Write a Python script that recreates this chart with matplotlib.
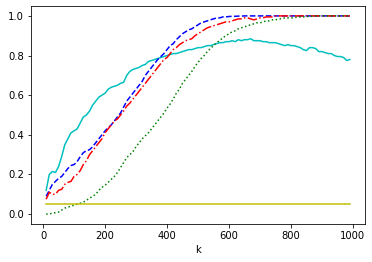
import numpy as np
import matplotlib
matplotlib.use("Agg")
import matplotlib.pyplot as plt

k = list(range(10, 1000, 10))

cyan = [0.12, 0.20, 0.215, 0.21, 0.24, 0.29, 0.35, 0.38, 0.41, 0.42,
        0.43, 0.46, 0.49, 0.50, 0.52, 0.55, 0.57, 0.59, 0.60, 0.61,
        0.63, 0.64, 0.645, 0.65, 0.66, 0.665, 0.70, 0.72, 0.73, 0.735,
        0.74, 0.75, 0.755, 0.77, 0.775, 0.78, 0.785, 0.79, 0.795, 0.80,
        0.805, 0.81, 0.81, 0.815, 0.82, 0.825, 0.83, 0.83, 0.835, 0.84,
        0.84, 0.845, 0.85, 0.85, 0.855, 0.86, 0.865, 0.865, 0.87, 0.87,
        0.875, 0.87, 0.88, 0.875, 0.88, 0.88, 0.885, 0.875, 0.875, 0.875,
        0.87, 0.87, 0.865, 0.865, 0.865, 0.86, 0.855, 0.85, 0.855, 0.85,
        0.85, 0.845, 0.84, 0.83, 0.825, 0.84, 0.84, 0.835, 0.82, 0.82,
        0.815, 0.81, 0.81, 0.80, 0.795, 0.795, 0.79, 0.775, 0.78]

blue = [0.09, 0.12, 0.15, 0.165, 0.18, 0.19, 0.21, 0.23, 0.245, 0.25,
        0.265, 0.29, 0.31, 0.32, 0.325, 0.34, 0.36, 0.38, 0.40, 0.42,
        0.435, 0.45, 0.47, 0.49, 0.51, 0.54, 0.57, 0.59, 0.61, 0.63,
        0.65, 0.67, 0.70, 0.72, 0.74, 0.76, 0.78, 0.795, 0.81, 0.83,
        0.85, 0.86, 0.88, 0.895, 0.91, 0.92, 0.93, 0.935, 0.945, 0.955,
        0.965, 0.97, 0.975, 0.98, 0.985, 0.99, 0.99, 0.995, 0.995, 0.997,
        0.998, 0.998, 0.999, 0.999, 1.0, 1.0, 1.0, 1.0, 1.0, 1.0,
        1.0, 1.0, 1.0, 1.0, 1.0, 1.0, 1.0, 1.0, 1.0, 1.0,
        1.0, 1.0, 1.0, 1.0, 1.0, 1.0, 1.0, 1.0, 1.0, 1.0,
        1.0, 1.0, 1.0, 1.0, 1.0, 1.0, 1.0, 1.0, 1.0]

red = [0.075, 0.11, 0.10, 0.10, 0.12, 0.125, 0.15, 0.16, 0.165, 0.19,
       0.20, 0.22, 0.25, 0.27, 0.30, 0.32, 0.34, 0.36, 0.38, 0.41,
       0.43, 0.45, 0.47, 0.48, 0.50, 0.52, 0.545, 0.56, 0.58, 0.60,
       0.62, 0.64, 0.66, 0.68, 0.70, 0.72, 0.74, 0.76, 0.78, 0.79,
       0.81, 0.83, 0.84, 0.855, 0.865, 0.875, 0.88, 0.885, 0.90, 0.91,
       0.92, 0.93, 0.94, 0.945, 0.95, 0.955, 0.96, 0.965, 0.97, 0.97,
       0.975, 0.98, 0.985, 0.985, 0.99, 0.99, 0.985, 0.98, 0.985, 0.99,
       0.99, 0.995, 0.995, 0.995, 1.0, 1.0, 1.0, 1.0, 1.0, 1.0,
       1.0, 1.0, 1.0, 1.0, 1.0, 1.0, 1.0, 1.0, 1.0, 1.0,
       1.0, 1.0, 1.0, 1.0, 1.0, 1.0, 1.0, 1.0, 1.0]

green = [0.0, 0.0, 0.005, 0.007, 0.01, 0.02, 0.03, 0.035, 0.04, 0.045,
         0.05, 0.055, 0.06, 0.07, 0.08, 0.09, 0.10, 0.12, 0.135, 0.145,
         0.16, 0.175, 0.19, 0.21, 0.235, 0.26, 0.285, 0.30, 0.315, 0.34,
         0.36, 0.38, 0.395, 0.41, 0.43, 0.45, 0.47, 0.49, 0.51, 0.535,
         0.555, 0.58, 0.61, 0.63, 0.66, 0.68, 0.70, 0.72, 0.745, 0.765,
         0.785, 0.80, 0.82, 0.835, 0.85, 0.865, 0.875, 0.89, 0.90, 0.91,
         0.92, 0.925, 0.935, 0.94, 0.945, 0.95, 0.955, 0.96, 0.965, 0.965,
         0.97, 0.975, 0.975, 0.98, 0.98, 0.985, 0.985, 0.99, 0.99, 0.99,
         0.99, 0.995, 0.995, 0.995, 0.997, 0.997, 0.998, 1.0, 1.0, 1.0,
         1.0, 1.0, 1.0, 1.0, 1.0, 1.0, 1.0, 1.0, 1.0]

yellow = [0.05] * len(k)

fig = plt.figure(figsize=(372 / 72, 262 / 72), dpi=72)
ax = fig.add_axes([31 / 372, 1 - 224 / 262, 334 / 372, 218 / 262])
ax.plot(k, cyan, 'c-')
ax.plot(k, blue, 'b--')
ax.plot(k, red, 'r-.')
ax.plot(k, green, 'g:')
ax.plot(k, yellow, 'y-')
ax.set_xlabel('k')
ax.set_yticks([0.0, 0.2, 0.4, 0.6, 0.8, 1.0])
fig.savefig('out.png', dpi=72)
